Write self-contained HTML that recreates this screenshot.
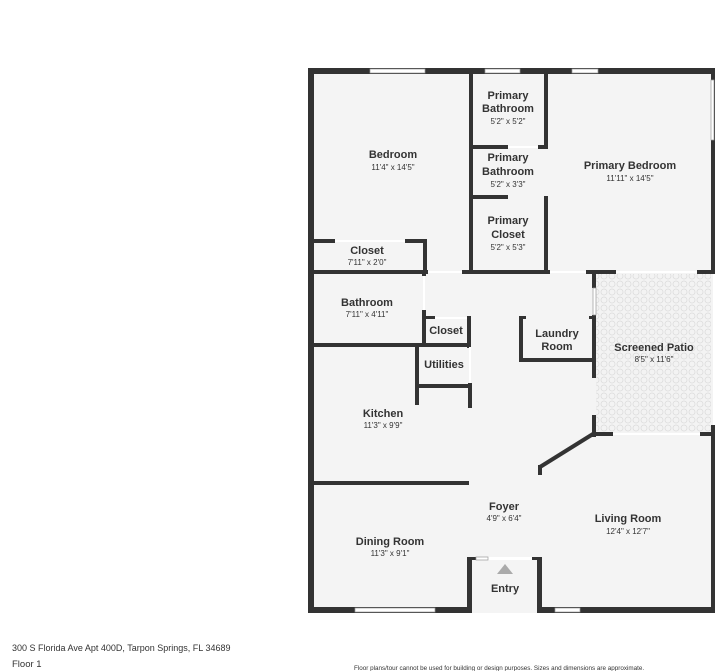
<!DOCTYPE html>
<html><head><meta charset="utf-8"><style>
body{margin:0;background:#fff;width:715px;height:671px;overflow:hidden;font-family:"Liberation Sans",sans-serif}
svg{position:absolute;left:0;top:0}
</style></head><body>
<svg width="715" height="671" viewBox="0 0 715 671">
<defs>
<pattern id="tile" width="8" height="8" patternUnits="userSpaceOnUse">
<rect width="8" height="8" fill="#f3f3f3"/>
<circle cx="4" cy="4" r="3" fill="none" stroke="#dcdcdc" stroke-width="0.8"/>
</pattern>
</defs>
<!-- floor -->
<rect x="311" y="71" width="402" height="539" fill="#f4f4f4"/>
<rect x="470" y="557" width="68" height="56" fill="#fff"/>
<rect x="470" y="560" width="68" height="53" fill="#f4f4f4"/>
<rect x="596" y="274" width="115" height="158" fill="url(#tile)"/>
<g fill="#333">
<!-- outer -->
<rect x="308" y="68" width="407" height="6"/>
<rect x="308" y="68" width="6" height="545"/>
<rect x="308" y="607" width="163" height="6"/>
<rect x="537" y="607" width="178" height="6"/>
<rect x="711" y="68" width="4" height="206"/>
<rect x="711" y="425" width="4" height="188"/>
<rect x="467" y="557" width="5" height="56"/>
<rect x="537" y="557" width="5" height="56"/>
<rect x="467" y="557" width="10" height="3"/>
<rect x="532" y="557" width="10" height="3"/>
<!-- upper interior -->
<rect x="469" y="74" width="4" height="198"/>
<rect x="544" y="74" width="4" height="75"/>
<rect x="470" y="145" width="38" height="4"/>
<rect x="538" y="145" width="10" height="4"/>
<rect x="470" y="195" width="38" height="4"/>
<rect x="544" y="196" width="4" height="76"/>
<rect x="308" y="270" width="120" height="4"/>
<rect x="462" y="270" width="88" height="4"/>
<rect x="586" y="270" width="30" height="4"/>
<rect x="697" y="270" width="18" height="4"/>
<rect x="308" y="239" width="27" height="4"/>
<rect x="405" y="239" width="22" height="4"/>
<rect x="423" y="239" width="4" height="35"/>
<!-- bathroom/closet/utilities -->
<rect x="422" y="270" width="4" height="6"/>
<rect x="422" y="310" width="4" height="37"/>
<rect x="422" y="316" width="13" height="3"/>
<rect x="467" y="316" width="4" height="32"/>
<rect x="308" y="343" width="163" height="4"/>
<rect x="415" y="345" width="4" height="60"/>
<rect x="417" y="384" width="54" height="4"/>
<rect x="468" y="383" width="4" height="25"/>
<!-- laundry -->
<rect x="519" y="316" width="4" height="46"/>
<rect x="519" y="316" width="7" height="3"/>
<rect x="519" y="358" width="76" height="4"/>
<rect x="589" y="316" width="6" height="3"/>
<!-- patio -->
<rect x="592" y="270" width="4" height="18"/>
<rect x="592" y="315" width="4" height="63"/>
<rect x="592" y="415" width="4" height="22"/>
<rect x="592" y="432" width="21" height="4"/>
<rect x="700" y="432" width="15" height="4"/>
<!-- kitchen/dining -->
<rect x="308" y="481" width="161" height="4"/>
<rect x="538" y="465" width="4" height="10"/>
</g>
<line x1="593" y1="434" x2="540" y2="467" stroke="#333" stroke-width="4"/>
<!-- windows -->
<g fill="#fff" stroke="#999" stroke-width="0.7">
<rect x="370" y="69" width="55" height="4"/>
<rect x="485" y="69" width="35" height="4"/>
<rect x="572" y="69" width="26" height="4"/>
<rect x="355" y="608" width="80" height="4"/>
<rect x="555" y="608" width="25" height="4"/>
<rect x="711" y="80" width="3" height="60"/>
<rect x="593" y="288" width="3" height="27"/>
<rect x="476" y="557" width="12" height="3"/>
</g>
<g fill="#fff">
<rect x="335" y="240" width="70" height="2"/>
<rect x="508" y="146" width="30" height="2"/>
<rect x="423" y="276" width="2" height="34"/>
<rect x="435" y="317" width="32" height="2"/>
<rect x="469" y="347" width="2" height="36"/>
<rect x="428" y="271" width="34" height="2"/>
<rect x="550" y="271" width="36" height="2"/>
<rect x="616" y="271" width="81" height="2"/>
<rect x="613" y="433" width="87" height="2"/>
<rect x="492" y="558" width="40" height="2"/>
</g>
<polygon points="505,564 497,574 513,574" fill="#aaa"/>
<g fill="#333" font-family="Liberation Sans, sans-serif" text-anchor="middle" font-weight="bold">
<g font-size="11">
<text x="393" y="158">Bedroom</text>
<text x="508" y="99">Primary</text><text x="508" y="112">Bathroom</text>
<text x="508" y="161">Primary</text><text x="508" y="175">Bathroom</text>
<text x="508" y="224">Primary</text><text x="508" y="238">Closet</text>
<text x="630" y="169">Primary Bedroom</text>
<text x="367" y="254">Closet</text>
<text x="367" y="306">Bathroom</text>
<text x="446" y="334">Closet</text>
<text x="444" y="368">Utilities</text>
<text x="557" y="337">Laundry</text><text x="557" y="350">Room</text>
<text x="654" y="351">Screened Patio</text>
<text x="383" y="417">Kitchen</text>
<text x="504" y="510">Foyer</text>
<text x="390" y="545">Dining Room</text>
<text x="628" y="522">Living Room</text>
<text x="505" y="592">Entry</text>
</g>
<g font-size="8" font-weight="normal">
<text x="393" y="170">11'4" x 14'5"</text>
<text x="508" y="124">5'2" x 5'2"</text>
<text x="508" y="187">5'2" x 3'3"</text>
<text x="508" y="250">5'2" x 5'3"</text>
<text x="630" y="181">11'11" x 14'5"</text>
<text x="367" y="265">7'11" x 2'0"</text>
<text x="367" y="317">7'11" x 4'11"</text>
<text x="654" y="362">8'5" x 11'6"</text>
<text x="383" y="428">11'3" x 9'9"</text>
<text x="504" y="521">4'9" x 6'4"</text>
<text x="390" y="556">11'3" x 9'1"</text>
<text x="628" y="534">12'4" x 12'7"</text>
</g>
</g>
<g fill="#333" font-family="Liberation Sans, sans-serif" font-size="9">
<text x="12" y="651">300 S Florida Ave Apt 400D, Tarpon Springs, FL 34689</text>
<text x="12" y="667" font-size="9.5">Floor 1</text>
<text x="354" y="670" font-size="6.3">Floor plans/tour cannot be used for building or design purposes. Sizes and dimensions are approximate.</text>
</g>
</svg>
</body></html>
